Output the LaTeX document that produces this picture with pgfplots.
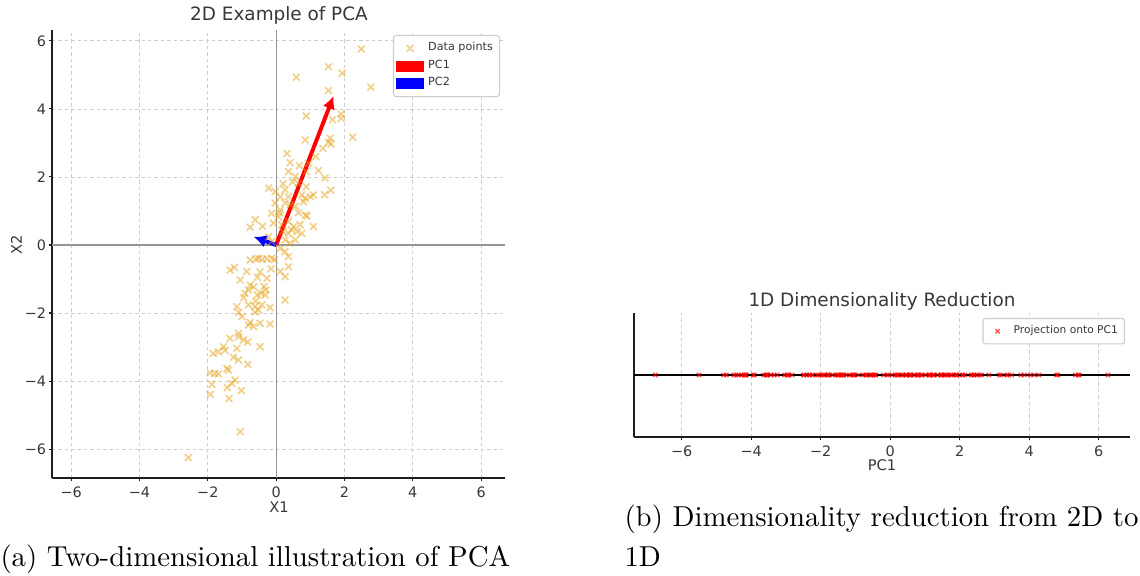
\documentclass[border=0pt]{standalone}
\usepackage{fontspec}
\usepackage{pgfplots}
\pgfplotsset{compat=1.18}
\usetikzlibrary{arrows.meta}
\newfontfamily\dejavu{DejaVu Sans}
\definecolor{ptcol}{RGB}{228,160,20}
\definecolor{gridc}{RGB}{205,205,205}
\definecolor{spine}{RGB}{30,30,30}
\definecolor{txt}{RGB}{55,55,55}
\definecolor{zline}{RGB}{150,150,150}

\pgfplotstableread{
x y
2.49 5.76
1.53 5.24
0.59 4.93
1.93 5.05
1.53 4.54
2.77 4.64
0.88 3.79
1.90 3.85
1.90 3.72
1.65 3.68
0.85 3.09
1.58 3.14
1.53 3.02
2.24 3.17
1.37 2.84
1.61 2.97
1.16 2.60
0.32 2.69
0.41 2.42
0.36 2.16
0.68 2.33
0.95 2.40
1.24 2.19
0.88 2.16
1.43 1.97
0.56 2.01
0.65 1.81
1.60 1.61
1.42 1.48
1.09 1.47
1.00 1.42
0.85 1.37
0.88 1.71
-0.22 1.67
-0.03 1.57
0.26 1.62
0.12 1.42
0.36 1.42
0.26 1.23
-0.03 1.23
0.41 1.18
0.12 1.03
0.56 1.13
0.75 1.47
0.80 1.27
-0.13 0.93
0.07 0.83
-0.08 0.64
0.17 0.59
0.36 0.69
0.51 0.54
0.61 0.39
0.36 0.34
0.26 0.15
0.56 0.15
0.75 0.34
0.85 0.88
1.09 0.54
-0.61 0.74
-0.76 0.52
-0.22 0.24
-0.13 0.10
0.90 0.85
0.45 0.45
0.70 0.60
0.20 0.40
0.40 0.05
0.10 0.95
0.12 -0.10
0.26 -0.20
0.36 -0.34
-0.76 -0.44
-0.52 -0.39
-0.40 -0.42
-0.27 -0.41
-0.13 -0.39
-0.05 -0.43
-0.60 -0.41
0.36 -0.64
0.12 -0.78
0.26 -0.93
-1.35 -0.74
-1.22 -0.66
-0.86 -0.78
-0.47 -0.79
-0.27 -0.98
-1.05 -1.03
-0.76 -1.18
-0.66 -1.23
-0.81 -1.32
-0.91 -1.42
-0.35 -1.22
-0.30 -1.32
-0.45 -1.42
-0.55 -1.47
-0.32 -1.47
0.26 -1.62
-1.15 -1.81
-1.00 -2.10
-1.10 -1.98
-0.81 -1.76
-0.62 -1.81
-0.52 -1.91
-0.42 -1.76
-0.18 -1.84
-0.62 -1.98
-0.95 -1.55
-0.60 -1.65
-0.76 -2.28
-0.81 -2.35
-0.66 -2.40
-0.47 -2.30
-0.18 -2.32
-1.10 -2.60
-1.35 -2.74
-1.10 -2.70
-0.96 -2.79
-0.83 -2.85
-0.47 -2.99
-1.54 -2.99
-1.84 -3.19
-1.69 -3.14
-1.15 -3.04
-1.50 -3.10
-1.25 -3.30
-1.10 -3.38
-0.83 -3.51
-1.44 -3.63
-1.40 -3.68
-1.93 -3.76
-1.69 -3.79
-1.80 -3.78
-1.20 -3.97
-1.30 -4.07
-1.88 -4.10
-1.43 -4.19
-1.02 -4.28
-1.93 -4.39
-1.38 -4.51
-1.05 -5.49
-2.57 -6.25
-0.55 -0.95
-0.15 -0.70
0.48 1.85
0.20 1.80
0.65 0.95
-0.40 0.55
}\datatable

\pgfplotstableread{
p y
6.27 0
5.44 0
4.82 0
5.41 0
4.79 0
5.33 0
3.86 0
4.28 0
4.15 0
4.03 0
3.19 0
3.50 0
3.37 0
3.76 0
3.14 0
3.35 0
2.84 0
2.63 0
2.41 0
2.15 0
2.42 0
2.58 0
2.49 0
2.33 0
2.35 0
2.08 0
1.92 0
2.08 0
1.89 0
1.76 0
1.68 0
1.58 0
1.91 0
1.48 0
1.46 0
1.61 0
1.37 0
1.46 0
1.24 0
1.14 0
1.25 0
1.01 0
1.26 0
1.64 0
1.47 0
0.82 0
0.80 0
0.57 0
0.61 0
0.77 0
0.69 0
0.58 0
0.45 0
0.23 0
0.34 0
0.59 0
1.13 0
0.89 0
0.47 0
0.21 0
0.15 0
0.05 0
1.12 0
0.58 0
0.81 0
0.45 0
0.19 0
0.92 0
-0.05 0
-0.09 0
-0.19 0
-0.68 0
-0.55 0
-0.54 0
-0.48 0
-0.41 0
-0.42 0
-0.60 0
-0.47 0
-0.69 0
-0.78 0
-1.17 0
-1.05 0
-1.04 0
-0.91 0
-1.01 0
-1.34 0
-1.37 0
-1.39 0
-1.52 0
-1.65 0
-1.26 0
-1.34 0
-1.49 0
-1.57 0
-1.49 0
-1.42 0
-2.10 0
-2.32 0
-2.24 0
-1.93 0
-1.91 0
-1.97 0
-1.79 0
-1.78 0
-2.07 0
-1.79 0
-1.76 0
-2.40 0
-2.49 0
-2.48 0
-2.32 0
-2.23 0
-2.82 0
-3.04 0
-2.92 0
-2.95 0
-2.96 0
-2.96 0
-3.34 0
-3.64 0
-3.54 0
-3.25 0
-3.43 0
-3.53 0
-3.55 0
-3.58 0
-3.91 0
-3.94 0
-4.20 0
-4.15 0
-4.18 0
-4.14 0
-4.27 0
-4.50 0
-4.43 0
-4.36 0
-4.79 0
-4.71 0
-5.50 0
-6.76 0
-1.08 0
-0.71 0
1.90 0
1.75 0
1.12 0
0.37 0
}\projtable

\begin{document}
\begin{tikzpicture}[x=0.375pt,y=0.375pt]
\useasboundingbox (0,0) rectangle (1140,576);
\pgfplotsset{
  common/.style={
    scale only axis,
    axis x line*=bottom, axis y line*=left,
    axis line style={spine, line width=0.5pt},
    tick align=outside, major tick length=1.3pt,
    tick style={spine, line width=0.4pt},
    tick label style={font=\dejavu\fontsize{5.4}{6}\selectfont, text=txt},
    xticklabel style={yshift=1.6pt},
    yticklabel style={xshift=2.6pt},
    grid style={gridc, line width=0.3pt, dash pattern=on 1.3pt off 1.1pt},
    legend style={draw=gridc, rounded corners=1pt, fill=white, text opacity=1,
      font=\dejavu\fontsize{4.2}{5}\selectfont, text=txt, inner sep=1.0pt, row sep=-1.0pt,
      nodes={inner sep=1.5pt}},
    legend cell align=left,
  }
}
% ---------- left: 2D example ----------
\begin{axis}[common,
  at={(19.5pt,36.75pt)}, anchor=south west,
  width=169.9pt, height=168pt,
  xmin=-6.56, xmax=6.7, ymin=-6.85, ymax=6.32,
  xtick={-6,-4,-2,0,2,4,6}, xticklabels={−6,−4,−2,0,2,4,6},
  ytick={-6,-4,-2,0,2,4,6}, yticklabels={−6,−4,−2,0,2,4,6},
  grid=major,
  legend style={at={(0.989,0.989)}, anchor=north east},
]
\addplot[zline, line width=0.4pt, forget plot] coordinates {(-6.56,0) (6.7,0)};
\addplot[zline, line width=0.4pt, forget plot] coordinates {(0,-6.85) (0,6.32)};
\addplot[only marks, mark=x, mark size=1.8pt, ptcol, line width=0.6pt, opacity=0.5,
  legend image code/.code={\path[draw=none, fill=none] (0pt,-1pt) rectangle (9pt,1pt); \draw[sharp corners] plot coordinates {(4.5pt,0pt)};}]
  table[x=x, y=y] {\datatable};
\addlegendentry{Data points}
\addplot[red, line width=1.5pt, -{Latex[length=4.8pt,width=4.8pt]},
  legend image code/.code={\fill[red, sharp corners, opacity=1] (0pt,-1.3pt) rectangle (9pt,1.3pt);}]
  coordinates {(0,0) (1.68,4.38)};
\addlegendentry{PC1}
\addplot[blue, line width=1.5pt, -{Latex[length=4.8pt,width=4.8pt]},
  legend image code/.code={\fill[blue, sharp corners, opacity=1] (0pt,-1.3pt) rectangle (9pt,1.3pt);}]
  coordinates {(0,0) (-0.66,0.24)};
\addlegendentry{PC2}
\end{axis}
\node[font=\dejavu\fontsize{6.9}{8}\selectfont, text=txt, anchor=base] at (279,555) {2D Example of PCA};
\node[font=\dejavu\fontsize{5.5}{6}\selectfont, text=txt, anchor=base] at (279,63) {X1};
\node[font=\dejavu\fontsize{5.5}{6}\selectfont, text=txt, anchor=base, rotate=90] at (22,331) {X2};

% ---------- right: 1D projection ----------
\begin{axis}[common,
  at={(237.75pt,52.125pt)}, anchor=south west,
  width=186pt, height=46.5pt,
  xmin=-7.37, xmax=6.9, ymin=-1, ymax=1,
  xtick={-6,-4,-2,0,2,4,6}, xticklabels={−6,−4,−2,0,2,4,6},
  ytick=\empty,
  xmajorgrids=true,
  legend style={at={(0.99,0.96)}, anchor=north east, font=\dejavu\fontsize{4.0}{5}\selectfont},
]
\addplot[black, line width=0.5pt, forget plot] coordinates {(-7.37,0) (6.9,0)};
\addplot[only marks, mark=x, mark size=1.1pt, red, line width=0.55pt, opacity=0.65,
  legend image code/.code={\path[draw=none, fill=none] (0pt,-1pt) rectangle (9pt,1pt); \draw[sharp corners] plot coordinates {(4.5pt,0pt)};}]
  table[x=p, y=y] {\projtable};
\addlegendentry{Projection onto PC1}
\end{axis}
\node[font=\dejavu\fontsize{6.9}{8}\selectfont, text=txt, anchor=base] at (882,269) {1D Dimensionality Reduction};
\node[font=\dejavu\fontsize{5.5}{6}\selectfont, text=txt, anchor=base] at (882,105) {PC1};

% ---------- captions ----------
\node[anchor=base west, inner sep=0pt, font=\fontsize{10.8}{13}\selectfont] at (0,9) {(a) Two-dimensional illustration of PCA};
\node[anchor=base west, inner sep=0pt, font=\fontsize{10.8}{13}\selectfont] at (624,49) {(b) Dimensionality reduction from 2D to};
\node[anchor=base west, inner sep=0pt, font=\fontsize{10.8}{13}\selectfont] at (624,9) {1D};
\end{tikzpicture}
\end{document}
